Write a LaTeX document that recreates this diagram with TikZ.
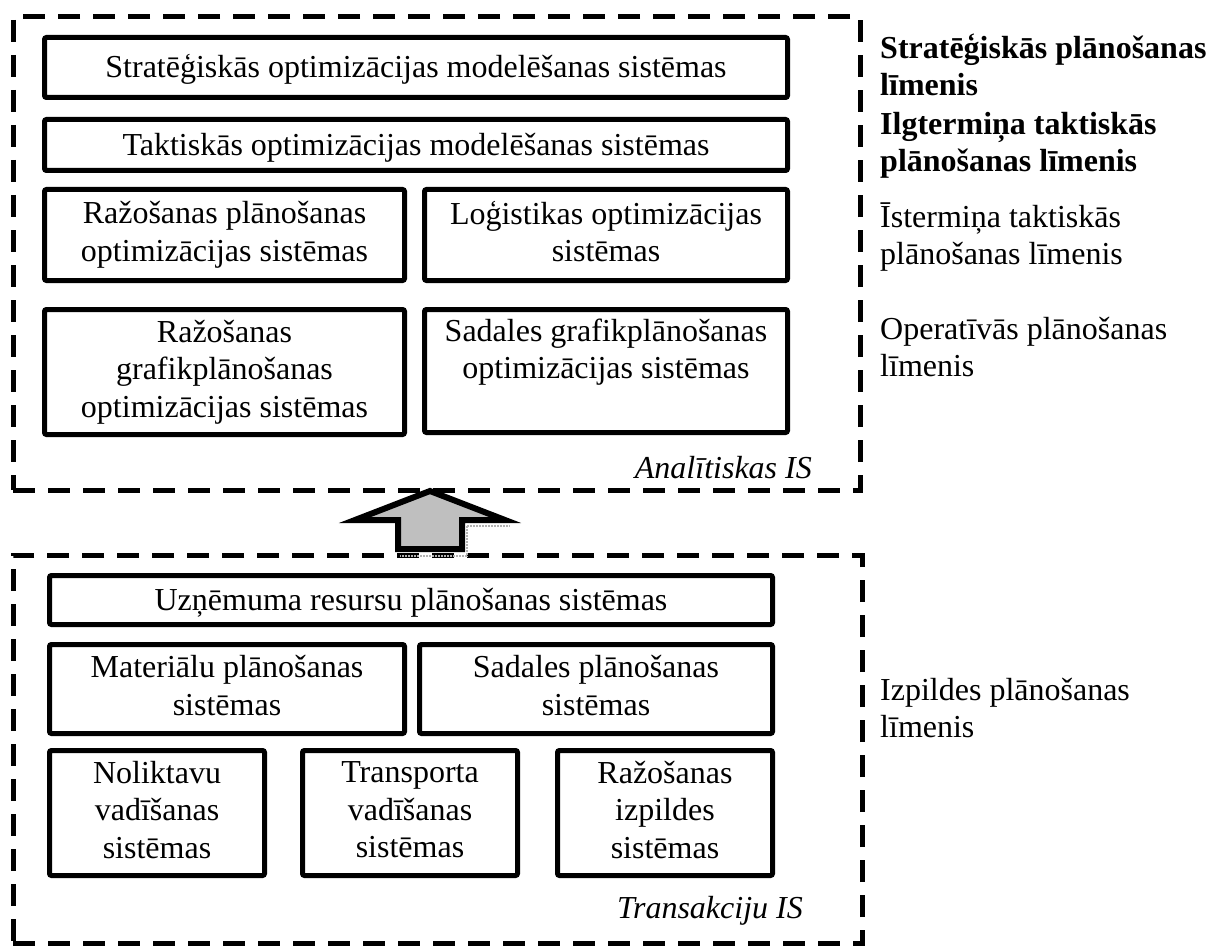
\documentclass[tikz,border=0pt]{standalone}
\usepackage{fontspec}
\setmainfont{Liberation Serif}
\begin{document}
\begin{tikzpicture}[x=1pt,y=-1pt,
  box/.style={draw, line width=5pt, rounded corners=2pt, align=center, inner sep=0pt, font=\fontsize{32}{37.5}\selectfont,
    execute at begin node={\vphantom{Ž}}, execute at end node={\vphantom{p}}},
  frame/.style={draw, line width=5pt, dash pattern=on 22pt off 13pt, inner sep=0pt},
  lvl/.style={anchor=west, align=left, inner sep=0pt, font=\fontsize{32}{37}\selectfont},
  islabel/.style={anchor=base east, inner sep=0pt, font=\fontsize{32}{37}\selectfont\itshape},
  bigarrow/.style={draw, line width=6pt, line join=miter, fill=gray!50},
  shadowdots/.style={gray!60, densely dotted, line width=2pt}]
\useasboundingbox (0,0) rectangle (1211,947);

% frames
\node[frame, minimum width=847pt, minimum height=473pt] (ana) at (436.5,253.5) {};
\node[frame, minimum width=849pt, minimum height=388pt] (tra) at (437.5,749) {};

% analytic boxes
\node[box, minimum width=743pt, minimum height=60pt] (b1) at (416,67.5) {Stratēģiskās optimizācijas modelēšanas sistēmas};
\node[box, minimum width=743pt, minimum height=51pt] (b2) at (416,145) {Taktiskās optimizācijas modelēšanas sistēmas};
\node[box, minimum width=360pt, minimum height=91pt] (b3) at (224.5,235) {Ražošanas plānošanas\\optimizācijas sistēmas};
\node[box, minimum width=363pt, minimum height=91pt] (b4) at (606,235) {Loģistikas optimizācijas\\sistēmas};
\node[box, minimum width=360pt, minimum height=125pt] (b5) at (224.5,372) {Ražošanas\\grafikplānošanas\\optimizācijas sistēmas};
\node[box, minimum width=363pt, minimum height=123pt] (b6) at (606,371) {Sadales grafikplānošanas\\optimizācijas sistēmas\\\mbox{}};
\node[islabel] (anaLbl) at (812,478) {Analītiskas IS};

% transaction boxes
\node[box, minimum width=723pt, minimum height=49pt] (b7) at (411,600) {Uzņēmuma resursu plānošanas sistēmas};
\node[box, minimum width=355pt, minimum height=89pt] (b8) at (227,689) {Materiālu plānošanas\\sistēmas};
\node[box, minimum width=353pt, minimum height=89pt] (b9) at (596,689) {Sadales plānošanas\\sistēmas};
\node[box, minimum width=215pt, minimum height=125pt] (b10) at (157,813) {Noliktavu\\vadīšanas\\sistēmas};
\node[box, minimum width=215pt, minimum height=125pt] (b11) at (410,813) {Transporta\\vadīšanas\\sistēmas};
\node[box, minimum width=215pt, minimum height=125pt] (b12) at (665,813) {Ražošanas\\izpildes\\sistēmas};
\node[islabel] (traLbl) at (803,918) {Transakciju IS};

% big arrow from transaction IS up to analytic IS
\coordinate (tip) at (430,491);
\coordinate (hr) at (505,520);
\coordinate (sr) at (462,520);
\coordinate (br) at (462,549);
\coordinate (bl) at (398,549);
\coordinate (sl) at (398,520);
\coordinate (hl) at (355,520);
\draw[shadowdots] (467,526) -- (510,526) (467,526) -- (467,556) -- (400,556);
\draw[bigarrow] (tip) -- (hr) -- (sr) -- (br) -- (bl) -- (sl) -- (hl) -- cycle;

% level labels
\node[lvl, font=\fontsize{32}{37}\selectfont\bfseries] (l1) at (880,65) {Stratēģiskās plānošanas\\līmenis};
\node[lvl, font=\fontsize{32}{37}\selectfont\bfseries] (l2) at (880,145) {Ilgtermiņa taktiskās\\plānošanas līmenis};
\node[lvl] (l3) at (880,237) {Īstermiņa taktiskās\\plānošanas līmenis};
\node[lvl] (l4) at (880,347) {Operatīvās plānošanas\\līmenis};
\node[lvl] (l5) at (880,708) {Izpildes plānošanas\\līmenis};
\end{tikzpicture}
\end{document}
